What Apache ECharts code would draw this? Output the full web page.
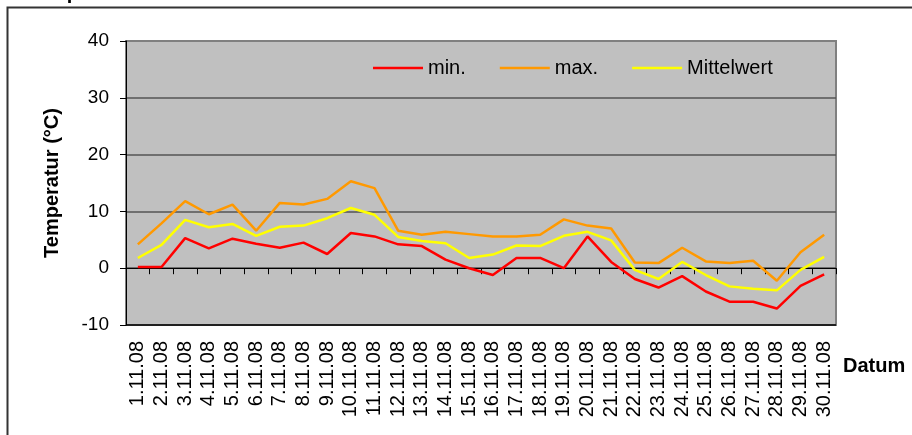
<!DOCTYPE html>
<html>
<head>
<meta charset="utf-8">
<script src="https://cdn.jsdelivr.net/npm/echarts@6/dist/echarts.min.js"></script>
<style>html,body{margin:0;padding:0;background:#fff;}#c{width:912px;height:435px;}</style>
</head>
<body>
<div id="c"></div>
<script>
var days = ['1.11.08','2.11.08','3.11.08','4.11.08','5.11.08','6.11.08','7.11.08','8.11.08','9.11.08','10.11.08',
  '11.11.08','12.11.08','13.11.08','14.11.08','15.11.08','16.11.08','17.11.08','18.11.08','19.11.08','20.11.08',
  '21.11.08','22.11.08','23.11.08','24.11.08','25.11.08','26.11.08','27.11.08','28.11.08','29.11.08','30.11.08'];
var minVals = [0.2,0.2,5.3,3.5,5.2,4.3,3.6,4.5,2.5,6.2,5.6,4.2,3.9,1.5,0,-1.2,1.8,1.8,0,5.6,1.1,-1.9,-3.4,-1.4,-4.1,-5.9,-5.9,-7.1,-3.1,-1.1];
var maxVals = [4.2,7.9,11.8,9.5,11.2,6.6,11.5,11.2,12.2,15.3,14.1,6.6,5.9,6.4,6.0,5.6,5.6,5.9,8.6,7.5,7.0,1.0,0.9,3.6,1.2,0.9,1.3,-2.2,2.8,5.9];
var meanVals = [1.8,4.1,8.5,7.2,7.8,5.7,7.3,7.5,8.8,10.6,9.4,5.5,4.8,4.4,1.8,2.4,4.0,3.9,5.7,6.4,4.9,-0.3,-1.9,1.1,-1.2,-3.2,-3.6,-3.9,-0.3,2.0];
var seriesNames = ['min.','max.','Mittelwert'];
var yMin = -10, yMax = 40, yStep = 10;

var FONT = '"Liberation Sans", Arial, sans-serif';
var chart = echarts.init(document.getElementById('c'), null, {renderer: 'canvas'});
chart.setOption({
  animation: false,
  backgroundColor: '#ffffff',
  textStyle: {fontFamily: FONT},
  title: {
    text: 'Temperatur',
    left: 27, top: -17, padding: 0,
    textStyle: {fontFamily: FONT, fontWeight: 'bold', fontSize: 20, color: '#000'}
  },
  graphic: [
    {type: 'rect', left: 5, top: 5, shape: {x: 0, y: 0, width: 1000, height: 1000},
      style: {fill: 'none', stroke: '#333', lineWidth: 2}, silent: true, z: -1},
    {type: 'text', left: 843, top: 356,
      style: {text: 'Datum', font: 'bold 20px ' + FONT, fill: '#000'}}
  ],
  legend: {
    left: 373, top: 58, padding: 0,
    icon: 'rect',
    itemWidth: 50, itemHeight: 2.5, itemGap: 34,
    textStyle: {fontFamily: FONT, fontSize: 20, color: '#000'},
    data: seriesNames
  },
  grid: {
    left: 126, right: 76, top: 41, bottom: 110,
    show: true, backgroundColor: '#C0C0C0', borderColor: '#808080', borderWidth: 2
  },
  xAxis: {
    type: 'category', data: days, boundaryGap: true,
    axisLine: {show: true, lineStyle: {color: '#000', width: 1}},
    axisTick: {show: true, length: 6, lineStyle: {color: '#000'}},
    axisLabel: {rotate: 90, fontFamily: FONT, fontSize: 20, color: '#000', margin: 16, interval: 0},
    splitLine: {show: false}
  },
  yAxis: {
    type: 'value', min: yMin, max: yMax, interval: yStep,
    name: 'Temperatur (°C)', nameLocation: 'middle', nameGap: 64,
    nameTextStyle: {fontFamily: FONT, fontWeight: 'bold', fontSize: 20, color: '#000'},
    axisLine: {show: true, lineStyle: {color: '#000', width: 1}},
    axisTick: {show: true, length: 6, lineStyle: {color: '#000'}},
    axisLabel: {fontFamily: FONT, fontSize: 19, color: '#000', margin: 17},
    splitLine: {show: true, lineStyle: {color: ['#000','#555','#555','#555','#555','#808080'], width: 1.5}}
  },
  series: [
    {name: seriesNames[0], type: 'line', data: minVals, symbol: 'none', lineStyle: {color: '#FF0000', width: 2.5}, itemStyle: {color: '#FF0000'}},
    {name: seriesNames[1], type: 'line', data: maxVals, symbol: 'none', lineStyle: {color: '#FF9900', width: 2.5}, itemStyle: {color: '#FF9900'}},
    {name: seriesNames[2], type: 'line', data: meanVals, symbol: 'none', lineStyle: {color: '#FFFF00', width: 2.5}, itemStyle: {color: '#FFFF00'}}
  ]
});
</script>
</body>
</html>
